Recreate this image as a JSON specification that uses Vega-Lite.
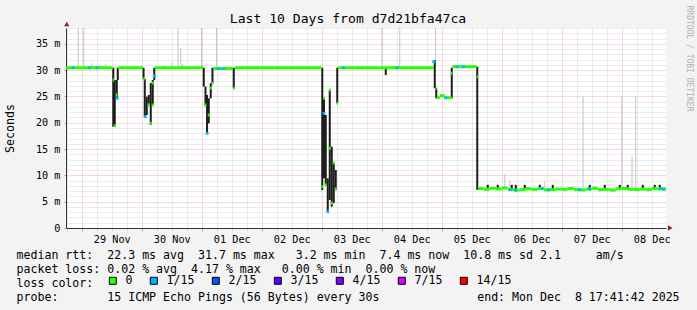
{
  "$schema": "https://vega.github.io/schema/vega-lite/v6.json",
  "width": 600,
  "height": 200,
  "autosize": {"type": "none"},
  "padding": {"left": 66, "top": 28, "right": 31, "bottom": 82},
  "background": "#f3f3f3",
  "config": {"view": {"fill": "white", "stroke": null}},
  "title": {"text": "Last 10 Days from d7d21bfa47ca", "font": "DejaVu Sans Mono", "fontSize": 13.1, "fontWeight": "normal", "color": "black", "anchor": "middle", "frame": "group", "dx": -18, "dy": 35, "offset": 4, "baseline": "alphabetic"},
  "datasets": {
    "median": [
      {"t": "2025-11-28T17:42:00Z", "t2": "2025-11-29T12:24:00Z", "v": 30.45},
      {"t": "2025-11-29T12:24:00Z", "t2": "2025-11-29T13:00:00Z", "v": 28.12},
      {"t": "2025-11-29T12:48:00Z", "t2": "2025-11-29T13:36:00Z", "v": 19.44},
      {"t": "2025-11-29T13:36:00Z", "t2": "2025-11-29T14:12:00Z", "v": 25.27},
      {"t": "2025-11-29T14:36:00Z", "t2": "2025-11-30T00:31:00Z", "v": 30.45},
      {"t": "2025-11-30T00:24:00Z", "t2": "2025-11-30T01:12:00Z", "v": 28.31},
      {"t": "2025-11-30T02:24:00Z", "t2": "2025-11-30T03:12:00Z", "v": 23.4},
      {"t": "2025-11-30T03:12:00Z", "t2": "2025-11-30T04:00:00Z", "v": 19.89},
      {"t": "2025-11-30T04:00:00Z", "t2": "2025-11-30T04:48:00Z", "v": 27.55},
      {"t": "2025-11-30T04:00:00Z", "t2": "2025-11-30T04:48:00Z", "v": 23.37},
      {"t": "2025-11-30T05:12:00Z", "t2": "2025-12-01T00:31:00Z", "v": 30.45},
      {"t": "2025-12-01T01:05:00Z", "t2": "2025-12-01T01:53:00Z", "v": 23.37},
      {"t": "2025-12-01T02:24:00Z", "t2": "2025-12-01T03:12:00Z", "v": 21.47},
      {"t": "2025-12-01T03:12:00Z", "t2": "2025-12-01T04:00:00Z", "v": 26.6},
      {"t": "2025-12-01T04:00:00Z", "t2": "2025-12-01T04:36:00Z", "v": 27.49},
      {"t": "2025-12-01T04:36:00Z", "t2": "2025-12-01T12:31:00Z", "v": 30.3},
      {"t": "2025-12-01T12:36:00Z", "t2": "2025-12-01T13:12:00Z", "v": 26.54},
      {"t": "2025-12-01T13:12:00Z", "t2": "2025-12-02T23:53:00Z", "v": 30.45},
      {"t": "2025-12-02T23:53:00Z", "t2": "2025-12-03T00:31:00Z", "v": 7.85},
      {"t": "2025-12-03T00:31:00Z", "t2": "2025-12-03T01:12:00Z", "v": 24.64},
      {"t": "2025-12-03T01:12:00Z", "t2": "2025-12-03T02:00:00Z", "v": 8.17},
      {"t": "2025-12-03T02:48:00Z", "t2": "2025-12-03T03:36:00Z", "v": 26.22},
      {"t": "2025-12-03T02:48:00Z", "t2": "2025-12-03T03:36:00Z", "v": 15.14},
      {"t": "2025-12-03T03:36:00Z", "t2": "2025-12-03T04:24:00Z", "v": 4.75},
      {"t": "2025-12-03T04:24:00Z", "t2": "2025-12-03T05:12:00Z", "v": 12.35},
      {"t": "2025-12-03T05:12:00Z", "t2": "2025-12-03T06:00:00Z", "v": 7.4},
      {"t": "2025-12-03T06:00:00Z", "t2": "2025-12-03T06:31:00Z", "v": 23.69},
      {"t": "2025-12-03T06:31:00Z", "t2": "2025-12-04T20:48:00Z", "v": 30.45},
      {"t": "2025-12-04T21:36:00Z", "t2": "2025-12-04T22:00:00Z", "v": 26.54},
      {"t": "2025-12-04T22:00:00Z", "t2": "2025-12-04T23:12:00Z", "v": 24.76},
      {"t": "2025-12-04T23:12:00Z", "t2": "2025-12-05T01:12:00Z", "v": 25.14},
      {"t": "2025-12-05T01:12:00Z", "t2": "2025-12-05T04:00:00Z", "v": 24.76},
      {"t": "2025-12-05T03:36:00Z", "t2": "2025-12-05T04:12:00Z", "v": 29.39},
      {"t": "2025-12-05T04:12:00Z", "t2": "2025-12-05T14:00:00Z", "v": 30.65},
      {"t": "2025-12-05T14:00:00Z", "t2": "2025-12-05T14:24:00Z", "v": 28.75},
      {"t": "2025-12-05T14:24:00Z", "t2": "2025-12-05T16:48:00Z", "v": 7.5},
      {"t": "2025-12-05T16:48:00Z", "t2": "2025-12-05T19:12:00Z", "v": 7.35},
      {"t": "2025-12-05T19:12:00Z", "t2": "2025-12-05T21:36:00Z", "v": 7.55},
      {"t": "2025-12-05T21:36:00Z", "t2": "2025-12-06T00:00:00Z", "v": 7.4},
      {"t": "2025-12-06T00:00:00Z", "t2": "2025-12-06T02:24:00Z", "v": 7.6},
      {"t": "2025-12-06T02:24:00Z", "t2": "2025-12-06T04:48:00Z", "v": 7.3},
      {"t": "2025-12-06T04:48:00Z", "t2": "2025-12-06T07:12:00Z", "v": 7.2},
      {"t": "2025-12-06T07:12:00Z", "t2": "2025-12-06T09:36:00Z", "v": 7.3},
      {"t": "2025-12-06T09:36:00Z", "t2": "2025-12-06T12:00:00Z", "v": 7.45},
      {"t": "2025-12-06T12:00:00Z", "t2": "2025-12-06T14:24:00Z", "v": 7.35},
      {"t": "2025-12-06T14:24:00Z", "t2": "2025-12-06T16:48:00Z", "v": 7.5},
      {"t": "2025-12-06T16:48:00Z", "t2": "2025-12-06T19:12:00Z", "v": 7.25},
      {"t": "2025-12-06T19:12:00Z", "t2": "2025-12-06T21:36:00Z", "v": 7.3},
      {"t": "2025-12-06T21:36:00Z", "t2": "2025-12-07T00:00:00Z", "v": 7.4},
      {"t": "2025-12-07T00:00:00Z", "t2": "2025-12-07T02:24:00Z", "v": 7.35},
      {"t": "2025-12-07T02:24:00Z", "t2": "2025-12-07T04:48:00Z", "v": 7.5},
      {"t": "2025-12-07T04:48:00Z", "t2": "2025-12-07T07:12:00Z", "v": 7.3},
      {"t": "2025-12-07T07:12:00Z", "t2": "2025-12-07T09:36:00Z", "v": 7.25},
      {"t": "2025-12-07T09:36:00Z", "t2": "2025-12-07T12:00:00Z", "v": 7.4},
      {"t": "2025-12-07T12:00:00Z", "t2": "2025-12-07T14:24:00Z", "v": 7.55},
      {"t": "2025-12-07T14:24:00Z", "t2": "2025-12-07T16:48:00Z", "v": 7.3},
      {"t": "2025-12-07T16:48:00Z", "t2": "2025-12-07T19:12:00Z", "v": 7.35},
      {"t": "2025-12-07T19:12:00Z", "t2": "2025-12-07T21:36:00Z", "v": 7.2},
      {"t": "2025-12-07T21:36:00Z", "t2": "2025-12-08T00:00:00Z", "v": 7.45},
      {"t": "2025-12-08T00:00:00Z", "t2": "2025-12-08T02:24:00Z", "v": 7.5},
      {"t": "2025-12-08T02:24:00Z", "t2": "2025-12-08T04:48:00Z", "v": 7.35},
      {"t": "2025-12-08T04:48:00Z", "t2": "2025-12-08T07:12:00Z", "v": 7.3},
      {"t": "2025-12-08T07:12:00Z", "t2": "2025-12-08T09:36:00Z", "v": 7.4},
      {"t": "2025-12-08T09:36:00Z", "t2": "2025-12-08T12:00:00Z", "v": 7.3},
      {"t": "2025-12-08T12:00:00Z", "t2": "2025-12-08T14:24:00Z", "v": 7.5},
      {"t": "2025-12-08T14:24:00Z", "t2": "2025-12-08T17:41:00Z", "v": 7.4}
    ],
    "lossPts": [
      {"t": "2025-11-28T20:32:00Z", "v": 30.45, "loss": "1/15"},
      {"t": "2025-11-29T03:10:00Z", "v": 30.45, "loss": "1/15"},
      {"t": "2025-11-29T06:08:00Z", "v": 30.45, "loss": "1/15"},
      {"t": "2025-11-29T14:12:00Z", "v": 24.64, "loss": "1/15"},
      {"t": "2025-11-30T01:24:00Z", "v": 21.15, "loss": "1/15"},
      {"t": "2025-11-30T05:00:00Z", "v": 28.9, "loss": "1/15"},
      {"t": "2025-12-01T02:08:00Z", "v": 17.99, "loss": "1/15"},
      {"t": "2025-12-01T06:42:00Z", "v": 30.3, "loss": "1/15"},
      {"t": "2025-12-01T08:42:00Z", "v": 30.3, "loss": "1/15"},
      {"t": "2025-12-03T00:54:00Z", "v": 21.79, "loss": "1/15"},
      {"t": "2025-12-03T02:24:00Z", "v": 3.1, "loss": "1/15"},
      {"t": "2025-12-03T08:42:00Z", "v": 30.45, "loss": "1/15"},
      {"t": "2025-12-04T06:08:00Z", "v": 30.45, "loss": "1/15"},
      {"t": "2025-12-04T20:48:00Z", "v": 31.6, "loss": "1/15"},
      {"t": "2025-12-05T01:30:00Z", "v": 24.76, "loss": "1/15"},
      {"t": "2025-12-05T06:08:00Z", "v": 30.65, "loss": "1/15"},
      {"t": "2025-12-05T08:42:00Z", "v": 30.65, "loss": "1/15"},
      {"t": "2025-12-06T03:30:00Z", "v": 7.3, "loss": "1/15"},
      {"t": "2025-12-06T05:30:00Z", "v": 7.2, "loss": "1/15"},
      {"t": "2025-12-06T16:08:00Z", "v": 7.5, "loss": "1/15"},
      {"t": "2025-12-06T18:42:00Z", "v": 7.25, "loss": "1/15"},
      {"t": "2025-12-07T07:06:00Z", "v": 7.3, "loss": "1/15"},
      {"t": "2025-12-07T11:06:00Z", "v": 7.4, "loss": "1/15"},
      {"t": "2025-12-08T15:30:00Z", "v": 7.5, "loss": "1/15"},
      {"t": "2025-12-08T16:42:00Z", "v": 7.4, "loss": "1/15"}
    ],
    "spread": [
      {"t": "2025-11-29T12:36:00Z", "v": 19.25, "v2": 30.45},
      {"t": "2025-11-29T13:12:00Z", "v": 19.25, "v2": 28.12},
      {"t": "2025-11-29T14:00:00Z", "v": 24.64, "v2": 28.12},
      {"t": "2025-11-29T14:24:00Z", "v": 28.12, "v2": 30.45},
      {"t": "2025-11-30T00:43:00Z", "v": 28.31, "v2": 30.45},
      {"t": "2025-11-30T01:12:00Z", "v": 21.15, "v2": 28.31},
      {"t": "2025-11-30T02:00:00Z", "v": 21.47, "v2": 24.95},
      {"t": "2025-11-30T02:48:00Z", "v": 23.37, "v2": 25.27},
      {"t": "2025-11-30T03:36:00Z", "v": 19.57, "v2": 27.55},
      {"t": "2025-11-30T04:24:00Z", "v": 23.37, "v2": 28.12},
      {"t": "2025-11-30T05:00:00Z", "v": 28.12, "v2": 30.45},
      {"t": "2025-12-01T00:48:00Z", "v": 26.85, "v2": 30.45},
      {"t": "2025-12-01T01:29:00Z", "v": 23.37, "v2": 26.85},
      {"t": "2025-12-01T02:07:00Z", "v": 17.99, "v2": 25.27},
      {"t": "2025-12-01T02:48:00Z", "v": 19.89, "v2": 24.64},
      {"t": "2025-12-01T03:36:00Z", "v": 24.64, "v2": 27.49},
      {"t": "2025-12-01T04:17:00Z", "v": 27.49, "v2": 30.45},
      {"t": "2025-12-01T12:48:00Z", "v": 26.54, "v2": 30.45},
      {"t": "2025-12-03T00:12:00Z", "v": 7.22, "v2": 30.45},
      {"t": "2025-12-03T00:53:00Z", "v": 9.44, "v2": 24.64},
      {"t": "2025-12-03T01:36:00Z", "v": 8.17, "v2": 21.47},
      {"t": "2025-12-03T02:24:00Z", "v": 3.1, "v2": 9.44},
      {"t": "2025-12-03T03:12:00Z", "v": 5.32, "v2": 26.22},
      {"t": "2025-12-03T04:00:00Z", "v": 4.05, "v2": 15.45},
      {"t": "2025-12-03T04:48:00Z", "v": 4.75, "v2": 12.35},
      {"t": "2025-12-03T05:36:00Z", "v": 7.22, "v2": 11.02},
      {"t": "2025-12-03T06:12:00Z", "v": 23.69, "v2": 30.45},
      {"t": "2025-12-04T01:36:00Z", "v": 29.07, "v2": 30.45},
      {"t": "2025-12-04T21:12:00Z", "v": 26.54, "v2": 31.92},
      {"t": "2025-12-04T21:48:00Z", "v": 24.64, "v2": 26.54},
      {"t": "2025-12-05T04:00:00Z", "v": 24.64, "v2": 30.45},
      {"t": "2025-12-05T14:12:00Z", "v": 7.22, "v2": 30.65},
      {"t": "2025-12-05T18:24:00Z", "v": 7.4, "v2": 8.2},
      {"t": "2025-12-05T22:24:00Z", "v": 7.4, "v2": 8.2},
      {"t": "2025-12-06T04:00:00Z", "v": 7.4, "v2": 8.2},
      {"t": "2025-12-06T05:36:00Z", "v": 7.4, "v2": 8.2},
      {"t": "2025-12-06T09:12:00Z", "v": 7.4, "v2": 8.2},
      {"t": "2025-12-06T15:12:00Z", "v": 7.4, "v2": 8.2},
      {"t": "2025-12-06T20:24:00Z", "v": 7.4, "v2": 8.2},
      {"t": "2025-12-07T11:12:00Z", "v": 7.4, "v2": 8.2},
      {"t": "2025-12-07T17:12:00Z", "v": 7.4, "v2": 8.2},
      {"t": "2025-12-07T23:12:00Z", "v": 7.4, "v2": 8.2},
      {"t": "2025-12-08T02:24:00Z", "v": 7.4, "v2": 8.2},
      {"t": "2025-12-08T08:24:00Z", "v": 7.4, "v2": 8.2},
      {"t": "2025-12-08T13:12:00Z", "v": 7.4, "v2": 8.2},
      {"t": "2025-12-08T15:12:00Z", "v": 7.4, "v2": 8.2}
    ],
    "smoke": [
      {"t": "2025-11-28T22:36:00Z", "v": 30.45, "v2": 38},
      {"t": "2025-11-29T00:48:00Z", "v": 30.45, "v2": 38},
      {"t": "2025-11-29T04:00:00Z", "v": 30.45, "v2": 31.3},
      {"t": "2025-11-29T07:12:00Z", "v": 30.45, "v2": 31.1},
      {"t": "2025-11-29T09:36:00Z", "v": 30.45, "v2": 31.2},
      {"t": "2025-11-30T09:12:00Z", "v": 30.45, "v2": 31.0},
      {"t": "2025-11-30T12:00:00Z", "v": 30.45, "v2": 31.4},
      {"t": "2025-11-30T14:31:00Z", "v": 30.45, "v2": 38},
      {"t": "2025-11-30T15:36:00Z", "v": 30.45, "v2": 34.2},
      {"t": "2025-11-30T16:24:00Z", "v": 30.45, "v2": 31.2},
      {"t": "2025-11-30T23:55:00Z", "v": 30.45, "v2": 38},
      {"t": "2025-12-01T05:53:00Z", "v": 30.45, "v2": 38},
      {"t": "2025-12-04T00:07:00Z", "v": 30.45, "v2": 38},
      {"t": "2025-12-04T07:12:00Z", "v": 30.45, "v2": 38},
      {"t": "2025-12-04T21:29:00Z", "v": 31.9, "v2": 38},
      {"t": "2025-12-06T01:12:00Z", "v": 7.5, "v2": 10.26},
      {"t": "2025-12-06T03:12:00Z", "v": 7.5, "v2": 9.2},
      {"t": "2025-12-06T17:12:00Z", "v": 7.5, "v2": 8.8},
      {"t": "2025-12-07T08:31:00Z", "v": 7.5, "v2": 24.95},
      {"t": "2025-12-08T00:00:00Z", "v": 7.5, "v2": 24.95},
      {"t": "2025-12-08T04:07:00Z", "v": 7.5, "v2": 13.68},
      {"t": "2025-12-08T05:36:00Z", "v": 7.5, "v2": 24.95}
    ],
    "arrowUp": [{"t": "2025-11-28T18:00:00Z", "v": 38.76}],
    "arrowRight": [{"t": "2025-12-08T19:24:00Z", "v": 0}]
  },
  "encoding": {
    "x": {
      "field": "t", "type": "temporal",
      "scale": {"type": "utc", "nice": false, "domain": [1764351702000, 1765215702000]},
      "axis": {
        "values": [1764352800000,1764374400000,1764396000000,1764417600000,1764439200000,1764460800000,1764482400000,1764504000000,1764525600000,1764547200000,1764568800000,1764590400000,1764612000000,1764633600000,1764655200000,1764676800000,1764698400000,1764720000000,1764741600000,1764763200000,1764784800000,1764806400000,1764828000000,1764849600000,1764871200000,1764892800000,1764914400000,1764936000000,1764957600000,1764979200000,1765000800000,1765022400000,1765044000000,1765065600000,1765087200000,1765108800000,1765130400000,1765152000000,1765173600000,1765195200000],
        "labelExpr": "utchours(datum.value) == 12 ? utcFormat(datum.value, '%d %b') : ''",
        "labelFont": "DejaVu Sans Mono", "labelFontSize": 10.2, "labelColor": "black",
        "labelPadding": 3, "labelOverlap": false, "labelFlush": false, "labelBound": false,
        "grid": true,
        "gridColor": {"condition": {"test": "utchours(datum.value) == 0", "value": "#f0b0b0"}, "value": "#d8d8d8"},
        "gridDash": [1, 1], "gridWidth": 1,
        "ticks": true, "tickSize": 3,
        "tickColor": {"condition": {"test": "utchours(datum.value) == 0", "value": "#e09090"}, "value": "#d8d8d8"},
        "domainColor": "#333333", "domainWidth": 1,
        "title": [
          "median rtt:\u00a0\u00a022.3 ms avg\u00a0\u00a031.7 ms max\u00a0\u00a0\u00a03.2 ms min\u00a0\u00a07.4 ms now\u00a0\u00a010.8 ms sd 2.1\u00a0\u00a0\u00a0\u00a0\u00a0am/s",
          "packet loss: 0.02 % avg\u00a0\u00a04.17 % max\u00a0\u00a0\u00a00.00 % min\u00a0\u00a00.00 % now",
          "loss color:",
          "probe:\u00a0\u00a0\u00a0\u00a0\u00a0\u00a0\u00a015 ICMP Echo Pings (56 Bytes) every 30s\u00a0\u00a0\u00a0\u00a0\u00a0\u00a0\u00a0\u00a0\u00a0\u00a0\u00a0\u00a0\u00a0\u00a0end: Mon Dec\u00a0\u00a08 17:41:42 2025"
        ],
        "titleX": -50, "titleY": 30.3, "titleAlign": "left", "titleBaseline": "alphabetic",
        "titleFont": "DejaVu Sans Mono", "titleFontSize": 11.6, "titleFontWeight": "normal",
        "titleColor": "black", "titleLineHeight": 14
      }
    },
    "y": {
      "field": "v", "type": "quantitative",
      "scale": {"domain": [0, 38], "nice": false, "zero": false},
      "axis": {
        "values": [0,1,2,3,4,5,6,7,8,9,10,11,12,13,14,15,16,17,18,19,20,21,22,23,24,25,26,27,28,29,30,31,32,33,34,35,36,37,38],
        "labelExpr": "datum.value % 5 == 0 ? (datum.value == 0 ? '0' : datum.value + ' m') : ''",
        "labelFont": "DejaVu Sans Mono", "labelFontSize": 10.2, "labelColor": "black",
        "labelPadding": 4, "labelOverlap": false, "labelBound": false, "labelFlush": false,
        "grid": true,
        "gridColor": {"condition": {"test": "datum.value % 5 == 0", "value": "#f0b0b0"}, "value": "#d8d8d8"},
        "gridDash": [1, 1], "gridWidth": 1,
        "ticks": true, "tickSize": 2,
        "tickColor": {"condition": {"test": "datum.value % 5 == 0", "value": "#e09090"}, "value": "#ffffff"},
        "domainColor": "#333333", "domainWidth": 1,
        "title": "Seconds", "titleFont": "DejaVu Sans Mono", "titleFontSize": 11.6, "titleFontWeight": "normal",
        "titleColor": "black", "titleX": -56, "titleY": 100, "titleAngle": -90, "titleAlign": "center", "titleBaseline": "middle"
      }
    }
  },
  "layer": [
    {
      "data": {"name": "smoke"},
      "mark": {"type": "rule", "color": "#c4c4c4", "strokeWidth": 1},
      "encoding": {"y2": {"field": "v2"}}
    },
    {
      "data": {"name": "spread"},
      "mark": {"type": "rule", "color": "#1c1c1c", "strokeWidth": 2},
      "encoding": {
        "y": {"field": "v", "type": "quantitative", "scale": {"domain": [0, 38], "nice": false, "zero": false}, "axis": null},
        "y2": {"field": "v2"}
      }
    },
    {
      "data": {"name": "median"},
      "mark": {"type": "rule", "strokeWidth": 3, "strokeCap": "butt", "color": "#26ff00"},
      "encoding": {
        "x2": {"field": "t2"},
        "y": {"field": "v", "type": "quantitative", "scale": {"domain": [0, 38], "nice": false, "zero": false},
          "axis": {"orient": "right", "labels": false, "ticks": false, "domain": false, "grid": false,
            "title": "RRDTOOL / TOBI OETIKER", "titleFont": "DejaVu Sans Mono", "titleFontSize": 8, "titleFontWeight": "normal",
            "titleColor": "#b0b0b0", "titleAngle": 90, "titleX": 22, "titleY": -23, "titleAlign": "left", "titleBaseline": "middle"}}
      }
    },
    {
      "data": {"name": "lossPts"},
      "mark": {"type": "point", "filled": true, "shape": "square", "size": 8, "opacity": 1},
      "encoding": {
        "y": {"field": "v", "type": "quantitative", "scale": {"domain": [0, 38], "nice": false, "zero": false}, "axis": null},
        "color": {
          "field": "loss", "type": "nominal",
          "scale": {"domain": ["0", "1/15", "2/15", "3/15", "4/15", "7/15", "14/15"],
                    "range": ["#26ff00", "#00b8ff", "#0059ff", "#5e00ff", "#7e00ff", "#dd00ff", "#ff0000"]},
          "legend": {
            "orient": "none", "legendX": 41, "legendY": 247, "direction": "horizontal", "title": null,
            "symbolType": "square", "symbolSize": 49, "symbolStrokeWidth": 1, "symbolStrokeColor": "black",
            "symbolOpacity": 1, "gridAlign": "none",
            "labelFont": "DejaVu Sans Mono", "labelFontSize": 11.6, "labelColor": "black",
            "labelOffset": 7, "columnPadding": 15, "padding": 0
          }
        }
      }
    },
    {
      "data": {"name": "arrowUp"},
      "mark": {"type": "point", "filled": true, "color": "#a01c1c", "size": 28, "opacity": 1, "shape": "triangle-up"},
      "encoding": {
        "y": {"field": "v", "type": "quantitative", "scale": {"domain": [0, 38], "nice": false, "zero": false}, "axis": null}
      }
    },
    {
      "data": {"name": "arrowRight"},
      "mark": {"type": "point", "filled": true, "color": "#a01c1c", "size": 28, "opacity": 1, "shape": "triangle-right"},
      "encoding": {
        "y": {"field": "v", "type": "quantitative", "scale": {"domain": [0, 38], "nice": false, "zero": false}, "axis": null}
      }
    }
  ],
  "resolve": {"scale": {"y": "independent"}, "axis": {"y": "independent"}}
}
